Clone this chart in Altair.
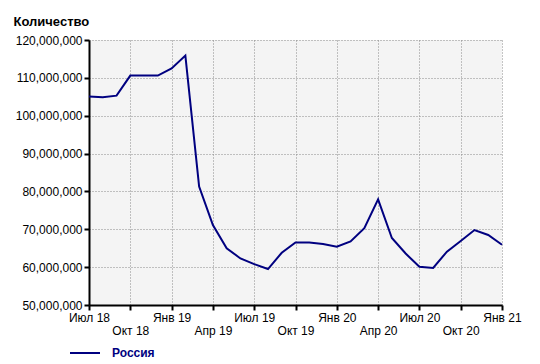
import json
import altair as alt
import pandas as pd

MONTHS = ["2018-07", "2018-08", "2018-09", "2018-10", "2018-11", "2018-12",
          "2019-01", "2019-02", "2019-03", "2019-04", "2019-05", "2019-06",
          "2019-07", "2019-08", "2019-09", "2019-10", "2019-11", "2019-12",
          "2020-01", "2020-02", "2020-03", "2020-04", "2020-05", "2020-06",
          "2020-07", "2020-08", "2020-09", "2020-10", "2020-11", "2020-12",
          "2021-01"]
VALUES_M = [105.1, 104.9, 105.3, 110.6, 110.6, 110.6,
            112.5, 115.9, 81.3, 71.1, 65.0, 62.3,
            60.8, 59.5, 63.8, 66.5, 66.5, 66.1,
            65.4, 66.8, 70.3, 77.9, 67.7, 63.6,
            60.1, 59.8, 64.1, 66.9, 69.8, 68.5,
            65.9]
TICK_LABELS = ["Июл 18", "Окт 18", "Янв 19", "Апр 19", "Июл 19", "Окт 19",
               "Янв 20", "Апр 20", "Июл 20", "Окт 20", "Янв 21"]
SERIES = "Россия"

df = pd.DataFrame({
    "idx": list(range(len(MONTHS))),
    "month": MONTHS,
    "value": [v * 1_000_000 for v in VALUES_M],
    "series": SERIES,
})

lab = json.dumps(TICK_LABELS, ensure_ascii=False)
label_expr = (f"(datum.value % 6 == 3) ? ['', {lab}[datum.value / 3]] : {lab}[datum.value / 3]")

FONT = "Liberation Sans"

chart = alt.Chart(df).mark_line(strokeWidth=2).encode(
    x=alt.X("idx:Q", scale=alt.Scale(domain=[0, 30], nice=False, zero=False),
            axis=alt.Axis(values=list(range(0, 31, 3)), labelExpr=label_expr,
                          title=None, labelLineHeight=13, labelPadding=2,
                          labelFlush=False, labelOverlap=False)),
    y=alt.Y("value:Q", scale=alt.Scale(domain=[50_000_000, 120_000_000], nice=False, zero=False),
            axis=alt.Axis(values=list(range(50_000_000, 120_000_001, 10_000_000)),
                          format=",d", title="Количество", titleAngle=0,
                          titleAlign="left", titleBaseline="alphabetic",
                          titleX=-76, titleY=-15, titleFontWeight="bold",
                          titleFontSize=13, labelPadding=2)),
    color=alt.Color("series:N", scale=alt.Scale(range=["#000080"]),
                    legend=alt.Legend(title=None, orient="none", legendX=-20, legendY=297,
                                      symbolType="stroke", symbolSize=900,
                                      symbolStrokeWidth=2, labelFontWeight="bold",
                                      labelColor="#000080", labelFontSize=12,
                                      labelFont=FONT, labelOffset=11, padding=0)),
).properties(
    width=413, height=265,
    autosize=alt.AutoSizeParams(type="none"),
    padding={"left": 89, "top": 40, "right": 38, "bottom": 59},
    background="#ffffff",
).configure_view(
    fill="#f4f4f4", stroke=None
).configure_axis(
    labelFont=FONT, titleFont=FONT, labelFontSize=12, labelColor="#000000",
    titleColor="#000000",
    domainColor="#000000", domainWidth=2,
    tickColor="#000000", tickWidth=2, tickSize=5,
    grid=True, gridColor="#8a8a8a", gridDash=[1, 2], gridWidth=1,
)

chart.save("out.html", embed_options={"renderer": "svg", "actions": False})
